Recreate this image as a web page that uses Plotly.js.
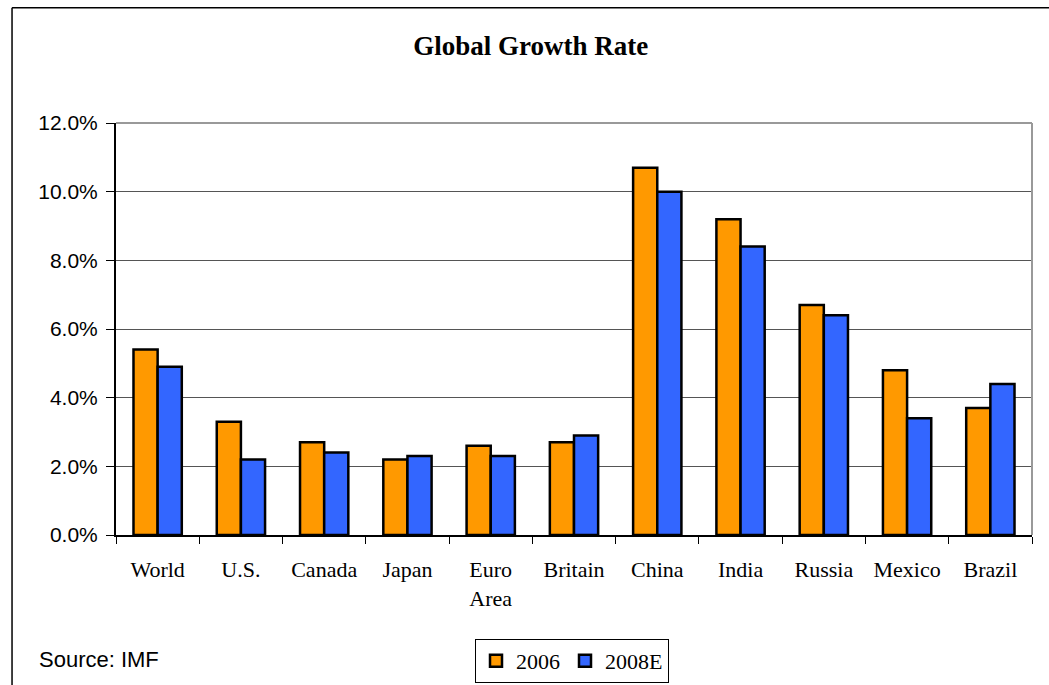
<!DOCTYPE html>
<html>
<head>
<meta charset="utf-8">
<script src="https://cdn.plot.ly/plotly-3.0.1.min.js"></script>
<style>html,body{margin:0;padding:0;background:#fff;}#chart{width:1049px;height:685px;}</style>
</head>
<body>
<div id="chart"></div>
<script>
var categories = ["World", "U.S.", "Canada", "Japan", "Euro<br>Area", "Britain", "China", "India", "Russia", "Mexico", "Brazil"];
var series2006 = [5.4, 3.3, 2.7, 2.2, 2.6, 2.7, 10.7, 9.2, 6.7, 4.8, 3.7];
var series2008E = [4.9, 2.2, 2.4, 2.3, 2.3, 2.9, 10.0, 8.4, 6.4, 3.4, 4.4];
var yTickValues = [0, 2, 4, 6, 8, 10, 12];
var yTickLabels = ["0.0%", "2.0%", "4.0%", "6.0%", "8.0%", "10.0%", "12.0%"];

var serif = "Liberation Serif, Times New Roman, serif";
var sans = "Liberation Sans, Arial, sans-serif";

var traces = [
  {type: "bar", name: "2006", x: categories, y: series2006,
   marker: {color: "#FF9900", line: {color: "#000", width: 2.5}}},
  {type: "bar", name: "2008E", x: categories, y: series2008E,
   marker: {color: "#3366FF", line: {color: "#000", width: 2.5}}}
];

var layout = {
  width: 1049, height: 685,
  margin: {l: 116, r: 17, t: 123, b: 150, autoexpand: false},
  paper_bgcolor: "#fff", plot_bgcolor: "#fff",
  barmode: "group", bargap: 0.42, bargroupgap: 0,
  showlegend: true,
  title: {text: "<b>Global Growth Rate</b>", font: {family: serif, size: 27, color: "#000"},
          x: 0.506, xanchor: "center", y: 1 - 46/685, yanchor: "middle"},
  xaxis: {
    type: "category", showgrid: false, zeroline: false, automargin: false,
    showline: true, linecolor: "#000", linewidth: 2,
    ticks: "outside", tickson: "boundaries", ticklen: 7, tickcolor: "#000", tickwidth: 1,
    ticklabelstandoff: 14,
    tickfont: {family: serif, size: 22, color: "#000"},
    fixedrange: true
  },
  yaxis: {
    range: [0, 12], tickvals: yTickValues, ticktext: yTickLabels, automargin: false,
    showgrid: true, gridcolor: "#555", gridwidth: 1,
    zeroline: false, showline: true, linecolor: "#000", linewidth: 2,
    ticks: "outside", ticklen: 8, tickcolor: "#000", tickwidth: 1,
    ticklabelstandoff: 4,
    tickfont: {family: sans, size: 21, color: "#000"},
    fixedrange: true
  },
  legend: {
    orientation: "h", xref: "container", yref: "container",
    x: 572/1049, xanchor: "center", y: 1 - 661/685, yanchor: "middle",
    bordercolor: "#000", borderwidth: 1, bgcolor: "#fff",
    font: {family: serif, size: 22, color: "#000"},
    itemwidth: 30, tracegroupgap: 0
  },
  annotations: [
    {text: "Source: IMF", xref: "paper", yref: "paper", x: (37 - 116)/916, y: (535.3 - 660)/412,
     xanchor: "left", yanchor: "middle", showarrow: false,
     font: {family: sans, size: 22, color: "#000"}}
  ],
  shapes: [
    {type: "line", xref: "paper", yref: "paper", x0: 0, x1: 1, y0: 1, y1: 1,
     line: {color: "#999", width: 2}},
    {type: "line", xref: "paper", yref: "paper", x0: 1, x1: 1, y0: 0, y1: 1,
     line: {color: "#999", width: 2}},
    {type: "line", xref: "paper", yref: "paper", x0: -0.1135, x1: -0.1135, y0: -0.5, y1: 1.28,
     line: {color: "#000", width: 1.5}},
    {type: "line", xref: "paper", yref: "paper", x0: -0.1135, x1: 1.1, y0: 1.28, y1: 1.28,
     line: {color: "#000", width: 1.5}}
  ]
};

Plotly.newPlot("chart", traces, layout, {displayModeBar: false, staticPlot: true});
</script>
</body>
</html>
